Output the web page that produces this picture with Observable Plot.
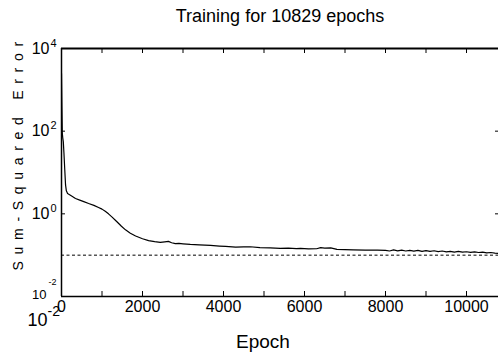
<!DOCTYPE html>
<html><head><meta charset="utf-8">
<script src="https://cdn.jsdelivr.net/npm/d3@7"></script>
<script src="https://cdn.jsdelivr.net/npm/@observablehq/plot@0.6"></script>
<style>
html,body{margin:0;padding:0;background:#fff;}
</style></head><body><div id="chart"></div>
<script>
const title = "Training for 10829 epochs";
const xLabel = "Epoch";
const yLabel = "Sum-Squared Error";
const goal = 0.1;

const epochs = [
  0, 10, 20, 30, 45, 60, 80, 100, 120, 150,
  200, 250, 345, 450, 550, 670, 800, 915, 1000, 1080,
  1160, 1250, 1330, 1400, 1480, 1580, 1700, 1830, 2000, 2150,
  2300, 2440, 2550, 2640, 2720, 2810, 2900, 3000, 3180, 3400,
  3680, 3900, 4050, 4300, 4500, 4660, 4900, 5150, 5400, 5600,
  5800, 5900, 6100, 6300, 6400, 6500, 6650, 6800, 7000, 7200,
  7500, 7800, 8000, 8100, 8200, 8300, 8400, 8500, 8600, 8700,
  8800, 8900, 9000, 9100, 9200, 9300, 9400, 9500, 9600, 9700,
  9800, 9900, 10000, 10100, 10200, 10300, 10400, 10500, 10600, 10700,
  10829
];
const sse = [
  2500, 400, 90, 70, 55, 30, 12, 5, 3.6, 3.1,
  2.9, 2.7, 2.35, 2.15, 1.98, 1.78, 1.6, 1.42, 1.3, 1.15,
  1.0, 0.83, 0.7, 0.6, 0.5, 0.41, 0.34, 0.29, 0.25, 0.225,
  0.212, 0.205, 0.21, 0.215, 0.2, 0.19, 0.192, 0.188, 0.182, 0.178,
  0.172, 0.166, 0.163, 0.156, 0.158, 0.16, 0.152, 0.15, 0.146, 0.148,
  0.144, 0.146, 0.142, 0.143, 0.152, 0.148, 0.15, 0.138, 0.136, 0.134,
  0.133, 0.132, 0.131, 0.126, 0.134, 0.127, 0.133, 0.126, 0.131, 0.125,
  0.13, 0.124, 0.129, 0.124, 0.128, 0.122, 0.126, 0.12, 0.124, 0.119,
  0.123, 0.118, 0.121, 0.117, 0.12, 0.116, 0.118, 0.114, 0.116, 0.112,
  0.11
];

const xTickLabels = [0, 2000, 4000, 6000, 8000, 10000];
const xTickMarks = [0, 1000, 2000, 3000, 4000, 5000, 6000, 7000, 8000, 9000, 10000];
const yTickValues = [1e-2, 1, 1e2, 1e4];
const yTickExponents = ["-2", "0", "2", "4"];

const data = epochs.map((e, i) => ({epoch: e, sse: sse[i]}));
const yTicks = yTickValues.map((v, i) => ({v, exp: yTickExponents[i]}));
const bigTicks = yTicks.filter(d => d.v >= 1);
const lowTicks = yTicks.filter(d => d.v < 1);

const chart = Plot.plot({
  width: 498, height: 356,
  marginLeft: 61, marginRight: 0, marginTop: 48, marginBottom: 60,
  style: {fontFamily: "'Liberation Sans', Arial, sans-serif", background: "#fff", color: "#000", overflow: "visible"},
  x: {domain: [0, 10790], axis: null},
  y: {type: "log", domain: [1e-2, 1e4], axis: null},
  marks: [
    Plot.ruleY([goal], {stroke: "#000", strokeWidth: 1, strokeDasharray: "3,2.5"}),
    Plot.line(data, {x: "epoch", y: "sse", stroke: "#000", strokeWidth: 1.2, clip: true}),
    Plot.ruleY([1e4], {stroke: "#000", strokeWidth: 2}),
    Plot.ruleY([1e-2], {stroke: "#000", strokeWidth: 1.5}),
    Plot.ruleX([0], {stroke: "#000", strokeWidth: 1.5}),
    Plot.ruleX(xTickMarks, {stroke: "#000", insetTop: 243}),
    Plot.ruleX(xTickMarks, {stroke: "#000", insetBottom: 243}),
    Plot.ruleY(yTickValues, {stroke: "#000", insetRight: 433}),
    Plot.ruleY(yTickValues, {stroke: "#000", insetLeft: 434}),
    Plot.text(xTickLabels, {x: d => d, text: d => String(d), frameAnchor: "bottom", dy: 15, lineAnchor: "bottom", fontSize: 16, fill: "#000"}),
    Plot.text(bigTicks, {y: "v", text: () => "10", frameAnchor: "left", textAnchor: "end", dx: -12, dy: 5, lineAnchor: "bottom", fontSize: 16, fill: "#000"}),
    Plot.text(bigTicks, {y: "v", text: "exp", frameAnchor: "left", textAnchor: "start", dx: -11, dy: -2, lineAnchor: "bottom", fontSize: 11, fill: "#000"}),
    Plot.text(lowTicks, {y: "v", text: () => "10", frameAnchor: "left", textAnchor: "end", dx: -15, dy: 2, lineAnchor: "bottom", fontSize: 13, fill: "#000"}),
    Plot.text(lowTicks, {y: "v", text: "exp", frameAnchor: "left", textAnchor: "start", dx: -13, dy: -12, lineAnchor: "bottom", fontSize: 9, fill: "#000"}),
    Plot.text(lowTicks, {y: "v", text: () => "10", frameAnchor: "left", textAnchor: "end", dx: -14, dy: 29, lineAnchor: "bottom", fontSize: 18, fill: "#000"}),
    Plot.text(lowTicks, {y: "v", text: "exp", frameAnchor: "left", textAnchor: "start", dx: -14, dy: 19, lineAnchor: "bottom", fontSize: 14, fill: "#000"}),
    Plot.text([title], {frameAnchor: "top", dy: -27, lineAnchor: "bottom", fontSize: 18, fill: "#000"}),
    Plot.text([xLabel], {frameAnchor: "bottom", dx: -17, dy: 51, lineAnchor: "bottom", fontSize: 19, fill: "#000"}),
    Plot.text([yLabel], {frameAnchor: "left", rotate: -90, textAnchor: "start", dx: -43, dy: 98, lineAnchor: "middle", fontSize: 14, fill: "#000"})
  ]
});
d3.select(chart).selectAll("text")
  .filter(function() { return this.textContent === yLabel; })
  .style("letter-spacing", "6.7px");
document.getElementById("chart").appendChild(chart);
</script>
</body></html>
